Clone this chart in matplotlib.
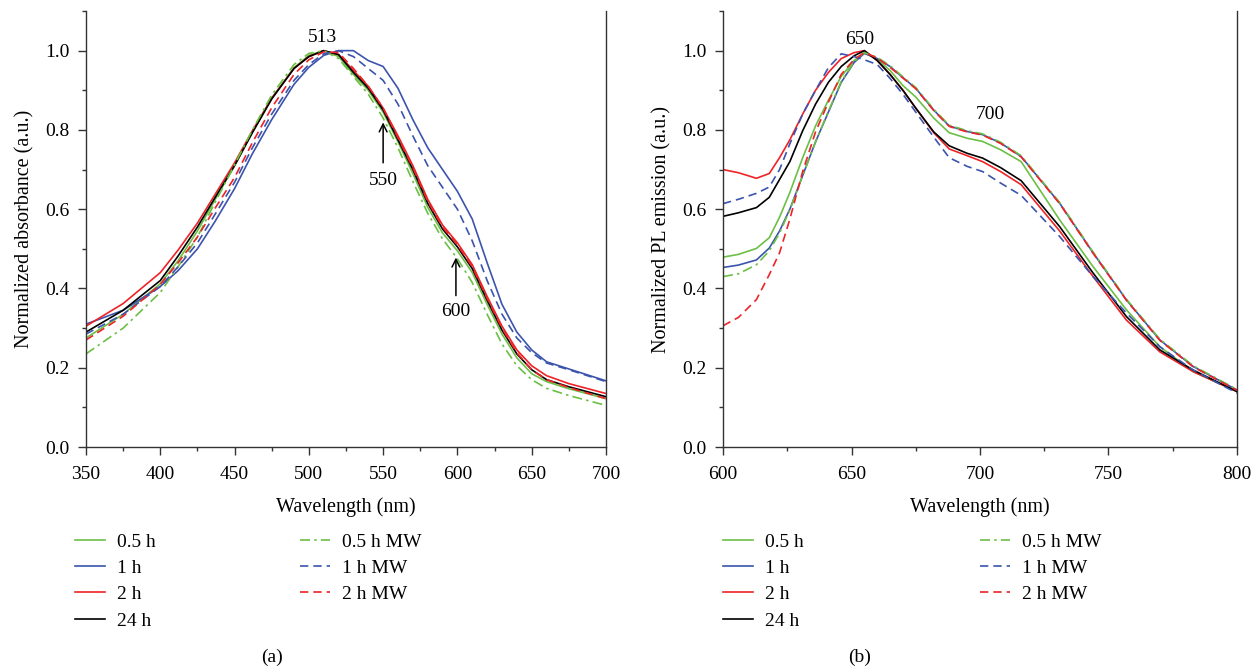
import matplotlib
matplotlib.use("Agg")
import matplotlib.pyplot as plt
from matplotlib.ticker import MultipleLocator, FormatStrFormatter
from matplotlib.lines import Line2D

# =========================
# 1. Data
# =========================
# (a) absorbance
wl_abs = [350, 375, 400, 412, 425, 437, 450, 462, 475, 490, 500, 510, 520, 530, 540, 550,
          560, 570, 580, 590, 600, 610, 620, 630, 640, 650, 660, 675, 700]
abs_05h = [0.275, 0.335, 0.412, 0.47, 0.545, 0.625, 0.71, 0.795, 0.88, 0.957, 0.988, 1.0, 0.985,
           0.94, 0.9, 0.845, 0.77, 0.69, 0.605, 0.54, 0.495, 0.44, 0.36, 0.285, 0.225, 0.185,
           0.165, 0.147, 0.122]
abs_1h = [0.31, 0.345, 0.405, 0.445, 0.50, 0.57, 0.652, 0.74, 0.826, 0.915, 0.958, 0.988, 1.0,
          1.0, 0.975, 0.96, 0.905, 0.826, 0.755, 0.70, 0.645, 0.575, 0.465, 0.36, 0.29, 0.245,
          0.215, 0.197, 0.167]
abs_2h = [0.305, 0.362, 0.44, 0.497, 0.565, 0.638, 0.717, 0.798, 0.88, 0.955, 0.985, 1.0, 0.99,
          0.95, 0.91, 0.855, 0.785, 0.71, 0.625, 0.56, 0.515, 0.46, 0.38, 0.305, 0.245, 0.205,
          0.18, 0.16, 0.135]
abs_24h = [0.29, 0.345, 0.42, 0.482, 0.555, 0.63, 0.71, 0.793, 0.878, 0.955, 0.985, 1.0, 0.99,
           0.945, 0.905, 0.85, 0.775, 0.70, 0.615, 0.55, 0.505, 0.45, 0.37, 0.295, 0.235, 0.195,
           0.17, 0.152, 0.127]
abs_05h_mw = [0.235, 0.30, 0.39, 0.455, 0.53, 0.618, 0.712, 0.80, 0.888, 0.965, 0.993, 1.0, 0.98,
              0.935, 0.89, 0.83, 0.755, 0.67, 0.59, 0.525, 0.475, 0.415, 0.335, 0.26, 0.205, 0.17,
              0.148, 0.13, 0.105]
abs_1h_mw = [0.285, 0.335, 0.405, 0.455, 0.515, 0.588, 0.668, 0.755, 0.84, 0.925, 0.965, 0.992, 1.0,
             0.985, 0.955, 0.925, 0.865, 0.785, 0.71, 0.655, 0.60, 0.52, 0.42, 0.335, 0.275, 0.238,
             0.212, 0.195, 0.165]
abs_2h_mw = [0.27, 0.33, 0.41, 0.465, 0.53, 0.603, 0.68, 0.768, 0.856, 0.94, 0.977, 0.997, 0.995,
             0.955, 0.91, 0.855, 0.78, 0.705, 0.62, 0.555, 0.51, 0.455, 0.375, 0.30, 0.238, 0.195,
             0.17, 0.15, 0.122]

# (b) PL emission
wl_pl = [600, 606, 613, 618, 622, 626, 631, 636, 641, 646, 651, 655, 660, 665,
         670, 675, 682, 688, 695, 701, 708, 716, 731, 744, 757, 770, 783, 800]
pl_05h = [0.479, 0.486, 0.501, 0.528, 0.58, 0.642, 0.73, 0.81, 0.875, 0.935, 0.975, 0.995, 0.978, 0.95,
          0.912, 0.883, 0.83, 0.793, 0.779, 0.771, 0.75, 0.72, 0.573, 0.455, 0.346, 0.253, 0.19, 0.14]
pl_1h = [0.453, 0.459, 0.472, 0.502, 0.545, 0.60, 0.685, 0.77, 0.845, 0.92, 0.97, 0.993, 0.98, 0.96,
         0.932, 0.905, 0.85, 0.81, 0.796, 0.788, 0.767, 0.733, 0.615, 0.49, 0.371, 0.27, 0.203, 0.144]
pl_2h = [0.70, 0.692, 0.678, 0.69, 0.73, 0.775, 0.84, 0.90, 0.945, 0.98, 0.995, 1.0, 0.975, 0.94,
         0.90, 0.855, 0.793, 0.752, 0.735, 0.72, 0.695, 0.662, 0.545, 0.43, 0.32, 0.24, 0.19, 0.14]
pl_24h = [0.582, 0.591, 0.604, 0.63, 0.675, 0.72, 0.798, 0.865, 0.92, 0.96, 0.987, 1.0, 0.975, 0.94,
          0.90, 0.855, 0.795, 0.76, 0.741, 0.729, 0.705, 0.672, 0.556, 0.439, 0.329, 0.245, 0.194, 0.14]
pl_05h_mw = [0.43, 0.437, 0.46, 0.495, 0.54, 0.598, 0.685, 0.77, 0.847, 0.922, 0.972, 0.995, 0.983, 0.962,
             0.934, 0.907, 0.852, 0.812, 0.798, 0.79, 0.769, 0.735, 0.617, 0.492, 0.373, 0.272, 0.205, 0.145]
pl_1h_mw = [0.614, 0.625, 0.64, 0.656, 0.70, 0.765, 0.84, 0.90, 0.957, 0.992, 0.985, 0.977, 0.965, 0.93,
            0.89, 0.845, 0.782, 0.73, 0.708, 0.695, 0.666, 0.635, 0.531, 0.43, 0.338, 0.253, 0.194, 0.136]
pl_2h_mw = [0.306, 0.327, 0.372, 0.435, 0.49, 0.575, 0.695, 0.795, 0.87, 0.94, 0.978, 0.995, 0.982, 0.958,
            0.931, 0.904, 0.849, 0.809, 0.795, 0.787, 0.766, 0.732, 0.614, 0.489, 0.37, 0.269, 0.202, 0.143]

labels = ["0.5 h", "1 h", "2 h", "24 h", "0.5 h MW", "1 h MW", "2 h MW"]

GREEN = "#6cbf45"
BLUE = "#3b54ad"
RED = "#ee2328"
BLACK = "#000000"
styles = [(GREEN, "-"), (BLUE, "-"), (RED, "-"), (BLACK, "-"),
          (GREEN, (0, (6, 2.5, 1.5, 2.5))), (BLUE, (0, (5, 3))), (RED, (0, (5, 3)))]

# =========================
# 2. Figure setup
# =========================
plt.rcParams["font.family"] = ["Liberation Serif", "DejaVu Serif"]
plt.rcParams["font.size"] = 14

fig = plt.figure(figsize=(12.52, 6.67), dpi=100)
ax1 = fig.add_axes([0.0687, 0.3298, 0.4153, 0.6537])
ax2 = fig.add_axes([0.5775, 0.3298, 0.4105, 0.6537])


def style_axes(ax):
    ax.spines["top"].set_visible(False)
    for s in ["left", "bottom", "right"]:
        ax.spines[s].set_linewidth(1.0)
        ax.spines[s].set_color("#333333")
    ax.tick_params(which="major", direction="out", length=5.8, width=1, pad=6,
                   colors="#333333", labelcolor="black", labelsize=14, top=False, right=False)
    ax.tick_params(which="minor", direction="out", length=3, width=1, colors="#333333",
                   top=False, right=False)
    ax.tick_params(axis="x", which="major", pad=8)
    ax.set_ylim(0, 1.1)
    ax.yaxis.set_major_locator(MultipleLocator(0.2))
    ax.yaxis.set_minor_locator(MultipleLocator(0.1))
    ax.yaxis.set_major_formatter(FormatStrFormatter("%.1f"))
    ax.xaxis.set_major_locator(MultipleLocator(50))
    ax.xaxis.set_minor_locator(MultipleLocator(25))
    ax.set_xlabel("Wavelength (nm)", fontsize=14.5, labelpad=10)


# =========================
# 3. Panel (a)
# =========================
abs_series = [abs_05h, abs_1h, abs_2h, abs_24h, abs_05h_mw, abs_1h_mw, abs_2h_mw]
for (c, ls), y in zip(styles, abs_series):
    ax1.plot(wl_abs, y, color=c, linestyle=ls, linewidth=1.2)
style_axes(ax1)
ax1.set_xlim(350, 700)
ax1.set_ylabel("Normalized absorbance (a.u.)", fontsize=14.5, labelpad=8)
ax1.text(509, 1.033, "513", ha="center", va="center", fontsize=14)
ax1.annotate("", xy=(550, 0.826), xytext=(550, 0.71),
             arrowprops=dict(arrowstyle="->", lw=1.1, color="black"))
ax1.text(550, 0.672, "550", ha="center", va="center", fontsize=14)
ax1.annotate("", xy=(599, 0.485), xytext=(599, 0.375),
             arrowprops=dict(arrowstyle="->", lw=1.1, color="black"))
ax1.text(599, 0.341, "600", ha="center", va="center", fontsize=14)

# =========================
# 4. Panel (b)
# =========================
pl_series = [pl_05h, pl_1h, pl_2h, pl_24h, pl_05h_mw, pl_1h_mw, pl_2h_mw]
for (c, ls), y in zip(styles, pl_series):
    ax2.plot(wl_pl, y, color=c, linestyle=ls, linewidth=1.2)
style_axes(ax2)
ax2.set_xlim(600, 800)
ax2.set_ylabel("Normalized PL emission (a.u.)", fontsize=14.5, labelpad=8)
ax2.text(653, 1.027, "650", ha="center", va="center", fontsize=14)
ax2.text(704, 0.838, "700", ha="center", va="center", fontsize=14)

# =========================
# 5. Legends below each panel
# =========================
handles = [Line2D([], [], color=c, linestyle=ls, linewidth=1.2) for c, ls in styles]


def add_legend(x_frac, idx):
    fig.legend([handles[i] for i in idx], [labels[i] for i in idx],
               loc="upper left", bbox_to_anchor=(x_frac, 0.201), frameon=False,
               fontsize=14, handlelength=1.55, handletextpad=0.62, labelspacing=0.45,
               borderpad=0, borderaxespad=0)


add_legend(0.0599, [0, 1, 2, 3])
add_legend(0.2396, [4, 5, 6])
add_legend(0.5775, [0, 1, 2, 3])
add_legend(0.7827, [4, 5, 6])

fig.text(272 / 1252, 1 - 657 / 667, "(a)", ha="center", va="center", fontsize=14)
fig.text(860 / 1252, 1 - 657 / 667, "(b)", ha="center", va="center", fontsize=14)

plt.savefig("out.png", dpi=100)
